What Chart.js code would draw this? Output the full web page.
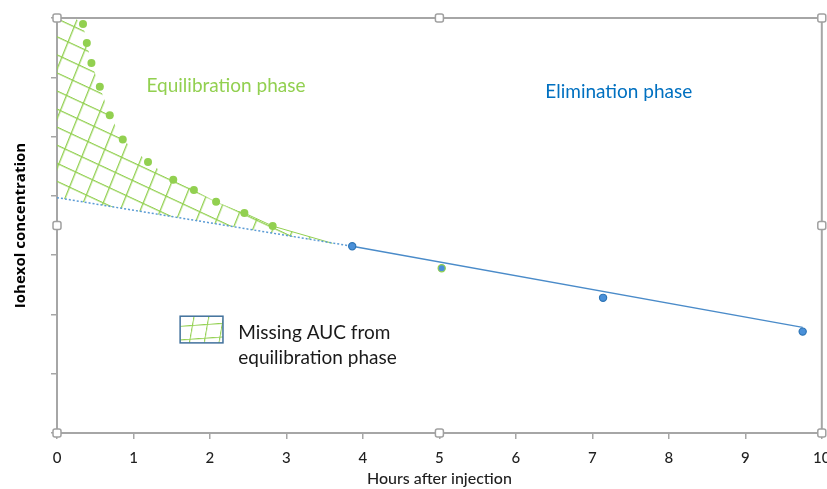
<!DOCTYPE html>
<html><head><meta charset="utf-8">
<script src="https://cdn.jsdelivr.net/npm/chart.js@4.4.1/dist/chart.umd.min.js"></script>
<style>html,body{margin:0;padding:0;background:#fff}#wrap{width:827px;height:489px;position:relative}</style>
</head><body><div id="wrap"><canvas id="c"></canvas></div>
<script>
// ---- data ----
const greenX = [0.34, 0.39, 0.45, 0.56, 0.69, 0.86, 1.19, 1.52, 1.79, 2.08, 2.45, 2.82];
const greenY = [6.90, 6.58, 6.24, 5.84, 5.36, 4.95, 4.57, 4.27, 4.10, 3.90, 3.71, 3.49];
const blueX = [3.86, 5.03, 7.14, 9.75];
const blueY = [3.15, 2.78, 2.28, 1.71];
const fitSolidX = [3.86, 9.75];
const fitSolidY = [3.15, 1.78];
const fitDashX = [0, 3.86];
const fitDashY = [3.97, 3.15];
const hatchX = [0, 0.23, 0.34, 0.39, 0.45, 0.56, 0.69, 0.86, 1.19, 1.52, 1.79, 2.08, 2.45, 2.82, 3.6, 0];
const hatchY = [7.0, 7.0, 6.90, 6.58, 6.24, 5.84, 5.36, 4.95, 4.57, 4.27, 4.10, 3.90, 3.71, 3.49, 3.20, 3.97];
const xTickValues = [0, 1, 2, 3, 4, 5, 6, 7, 8, 9, 10];
const xTitle = 'Hours after injection';
const yTitle = 'Iohexol concentration';
const phaseLabels = ['Equilibration phase', 'Elimination phase'];
const legendLines = ['Missing AUC from', 'equilibration phase'];

const pts = (xs, ys) => xs.map((x, i) => ({x, y: ys[i]}));

const GREEN = '#92d050';
const FRAME = '#a6a6a6';

function makeHatch(angU, lu, angV, lv, color, ox, oy) {
  const T = 20;
  const c = document.createElement('canvas');
  c.width = T; c.height = T;
  const g = c.getContext('2d');
  g.strokeStyle = color; g.lineWidth = 1.4;
  g.beginPath();
  g.moveTo(0, 0.7); g.lineTo(T, 0.7);
  g.moveTo(0.7, 0); g.lineTo(0.7, T);
  g.stroke();
  const p = g.createPattern(c, 'repeat');
  const a = angU * Math.PI / 180, b = angV * Math.PI / 180;
  p.setTransform(new DOMMatrix([Math.cos(a) * lu / T, Math.sin(a) * lu / T,
                                 -Math.cos(b) * lv / T, Math.sin(b) * lv / T, ox, oy]));
  return p;
}
const hatchPattern = makeHatch(25, 18.6, 68, 16.4, GREEN, 57, 18);
const legendPattern = makeHatch(-4, 15, 80, 14, GREEN, 192, 325);

const annot = {
  phase: [
    {x: 1.17, y: 5.85, color: GREEN},
    {x: 6.385, y: 5.75, color: '#0070c0'}
  ],
  legendBox: {x0: 1.61, y0: 1.97, x1: 2.17, y1: 1.52},
  legendText: {x: 2.37, y: [1.69, 1.26]}
};

const decor = {
  id: 'decor',
  beforeDatasetsDraw(chart) {
    const {ctx, chartArea: a} = chart;
    ctx.save();
    ctx.strokeStyle = FRAME; ctx.lineWidth = 2;
    ctx.beginPath();
    ctx.moveTo(a.left, a.top); ctx.lineTo(a.right, a.top); ctx.lineTo(a.right, a.bottom);
    ctx.stroke();
    ctx.restore();
  },
  afterDatasetsDraw(chart) {
    const {ctx, scales: {x, y}} = chart;
    ctx.save();
    ctx.textBaseline = 'middle'; ctx.textAlign = 'left';
    ctx.font = '19px Lato';
    phaseLabels.forEach((t, i) => {
      const p = annot.phase[i];
      ctx.fillStyle = p.color;
      ctx.fillText(t, x.getPixelForValue(p.x), y.getPixelForValue(p.y));
    });
    const b = annot.legendBox;
    const bx0 = x.getPixelForValue(b.x0), by0 = y.getPixelForValue(b.y0);
    const bx1 = x.getPixelForValue(b.x1), by1 = y.getPixelForValue(b.y1);
    ctx.fillStyle = legendPattern;
    ctx.fillRect(bx0, by0, bx1 - bx0, by1 - by0);
    ctx.strokeStyle = '#41719c'; ctx.lineWidth = 1.5;
    ctx.strokeRect(bx0, by0, bx1 - bx0, by1 - by0);
    ctx.fillStyle = '#1a1a1a';
    legendLines.forEach((t, i) => {
      ctx.fillText(t, x.getPixelForValue(annot.legendText.x), y.getPixelForValue(annot.legendText.y[i]));
    });
    ctx.restore();
  },
  afterDraw(chart) {
    const {ctx, chartArea: a} = chart;
    const mx = (a.left + a.right) / 2, my = (a.top + a.bottom) / 2;
    const hs = [[a.left, a.top], [mx, a.top], [a.right, a.top], [a.left, my], [a.right, my],
                [a.left, a.bottom], [mx, a.bottom], [a.right, a.bottom]];
    ctx.save();
    ctx.fillStyle = '#fff'; ctx.strokeStyle = '#a0a0a0'; ctx.lineWidth = 1.5;
    hs.forEach(([hx, hy]) => {
      ctx.beginPath();
      ctx.roundRect(hx - 4, hy - 4, 8, 8, 2);
      ctx.fill(); ctx.stroke();
    });
    ctx.restore();
  }
};

new Chart(document.getElementById('c'), {
  type: 'scatter',
  data: {
    datasets: [
      {label: 'green', data: pts(greenX, greenY), pointRadius: 4, pointHoverRadius: 4,
       backgroundColor: GREEN, borderColor: GREEN, borderWidth: 0, showLine: false, order: 0},
      {label: 'blue', data: pts(blueX, blueY), pointRadius: 3.6, backgroundColor: '#4a90d9',
       borderColor: ['#2e75b6', GREEN, '#2e75b6', '#2e75b6'], borderWidth: 1.2, showLine: false, order: 0},
      {label: 'fit', data: pts(fitSolidX, fitSolidY), showLine: true, pointRadius: 0,
       borderColor: '#4a8bc9', borderWidth: 1.3, order: 1},
      {label: 'fitExt', data: pts(fitDashX, fitDashY), showLine: true, pointRadius: 0,
       borderColor: '#5b9bd5', borderWidth: 1.5, borderDash: [2, 2], order: 1},
      {label: 'edge', data: pts(hatchX.slice(12, 15), hatchY.slice(12, 15)), showLine: true, pointRadius: 0,
       borderColor: GREEN, borderWidth: 1, order: 2},
      {label: 'hatch', data: pts(hatchX, hatchY), showLine: true, pointRadius: 0,
       borderWidth: 0, borderColor: 'rgba(0,0,0,0)', backgroundColor: hatchPattern, fill: 'shape', order: 3}
    ]
  },
  options: {
    responsive: true, maintainAspectRatio: false, animation: false,
    layout: {padding: {top: 18, right: 1, left: 0, bottom: 0}},
    plugins: {legend: {display: false}, tooltip: {enabled: false}},
    scales: {
      x: {
        type: 'linear', min: 0, max: 10,
        afterBuildTicks: s => { s.ticks = xTickValues.map(v => ({value: v})); },
        afterFit: s => { s.height = 56; s.paddingLeft = 0; s.paddingRight = 0; },
        grid: {drawOnChartArea: false, drawTicks: true, tickLength: 6, color: FRAME, lineWidth: 1.5},
        border: {color: FRAME, width: 2},
        ticks: {font: {family: 'Lato', size: 15, weight: '500'}, color: '#1f1f1f', padding: 10, maxRotation: 0},
        title: {display: true, text: xTitle, font: {family: 'Lato', size: 16, weight: '500'}, color: '#1f1f1f', padding: {top: 0, bottom: 1}}
      },
      y: {
        type: 'linear', min: 0, max: 7,
        ticks: {display: false, stepSize: 1},
        afterFit: s => { s.width = 57; s.paddingTop = 0; s.paddingBottom = 0; },
        grid: {drawOnChartArea: false, drawTicks: true, tickLength: 6, color: FRAME, lineWidth: 1.5},
        border: {color: FRAME, width: 2},
        title: {display: true, text: yTitle, font: {family: 'Open Sans', size: 15, weight: 'bold'}, color: '#000', padding: {top: 12, bottom: 0}}
      }
    }
  },
  plugins: [decor]
});
</script>
</body></html>
